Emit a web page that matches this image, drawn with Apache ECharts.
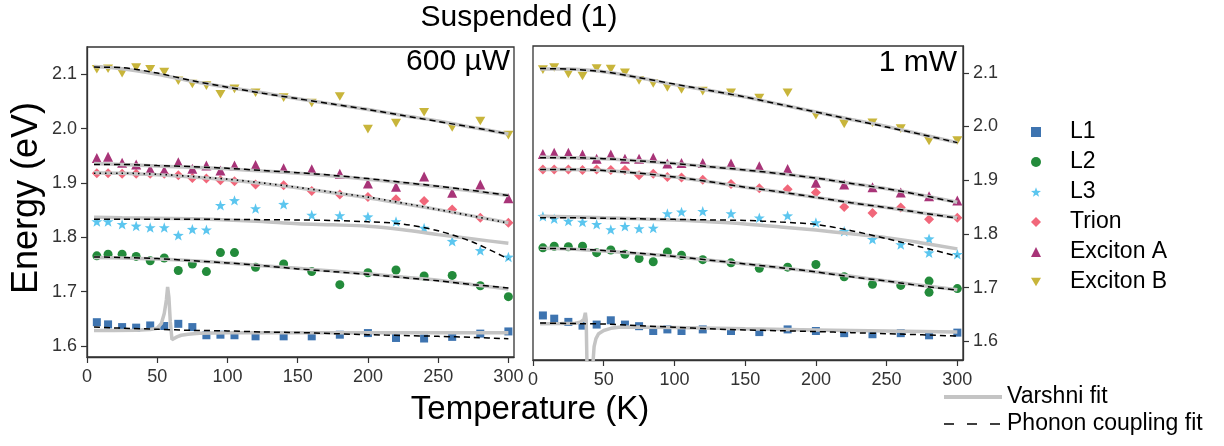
<!DOCTYPE html>
<html>
<head>
<meta charset="utf-8">
<script src="https://cdn.jsdelivr.net/npm/echarts@6/dist/echarts.min.js"></script>
<style>
  html, body { margin: 0; padding: 0; background: #fff; }
  #chart { width: 1224px; height: 446px; }
</style>
</head>
<body>
<div id="chart"></div>
<script>
// Measurement temperatures (K)
const TEMPS = [7, 15, 25, 35, 45, 55, 65, 75, 85, 95, 105, 120, 140, 160, 180, 200, 220, 240, 260, 280, 300];
const STATES = ['L1', 'L2', 'L3', 'Trion', 'Exciton A', 'Exciton B'];
const X_TICKS = [0, 50, 100, 150, 200, 250, 300];
const Y_TICKS = [1.6, 1.7, 1.8, 1.9, 2.0, 2.1];

// Peak energies (eV), 600 uW excitation
const P600_L1 = [1.644, 1.640, 1.635, 1.634, 1.638, 1.637, 1.641, 1.635, 1.620, 1.621, 1.620, 1.618, 1.618, 1.618, 1.621, 1.624, 1.615, 1.614, 1.617, 1.623, 1.627];
const P600_L2 = [1.766, 1.769, 1.769, 1.765, 1.757, 1.762, 1.739, 1.751, 1.737, 1.772, 1.772, 1.745, 1.751, 1.737, 1.713, 1.735, 1.740, 1.729, 1.730, 1.711, 1.691];
const P600_L3 = [1.829, 1.829, 1.824, 1.821, 1.818, 1.818, 1.804, 1.815, 1.814, 1.859, 1.868, 1.853, 1.861, 1.841, 1.840, 1.838, 1.829, 1.817, 1.793, 1.776, 1.764];
const P600_TRION = [1.918, 1.918, 1.917, 1.917, 1.917, 1.917, 1.914, 1.909, 1.908, 1.905, 1.903, 1.897, 1.896, 1.885, 1.879, 1.874, 1.870, 1.867, 1.851, 1.836, 1.827];
const P600_EXA = [1.946, 1.948, 1.937, 1.934, 1.925, 1.923, 1.938, 1.926, 1.932, 1.923, 1.932, 1.933, 1.927, 1.925, 1.917, 1.899, 1.893, 1.912, 1.882, 1.897, 1.872];
const P600_EXB = [2.109, 2.110, 2.102, 2.112, 2.109, 2.104, 2.088, 2.082, 2.079, 2.063, 2.073, 2.066, 2.057, 2.047, 2.059, 1.999, 2.010, 2.030, 2.002, 2.014, 1.988];

// Peak energies (eV), 1 mW excitation
const P1MW_L1 = [1.648, 1.642, 1.636, 1.629, 1.631, 1.639, 1.631, 1.628, 1.619, 1.622, 1.619, 1.622, 1.619, 1.617, 1.622, 1.619, 1.615, 1.613, 1.615, 1.611, 1.616];
const P1MW_L2 = [1.774, 1.777, 1.776, 1.777, 1.765, 1.770, 1.762, 1.754, 1.748, 1.766, 1.760, 1.752, 1.746, 1.736, 1.738, 1.743, 1.720, 1.706, 1.704, 1.691, 1.698];
const P1MW_L3 = [1.833, 1.828, 1.824, 1.822, 1.818, 1.808, 1.814, 1.810, 1.811, 1.838, 1.841, 1.842, 1.838, 1.830, 1.834, 1.821, 1.805, 1.790, 1.780, 1.765, 1.762];
const P1MW_TRION = [1.920, 1.920, 1.920, 1.919, 1.920, 1.919, 1.919, 1.909, 1.912, 1.906, 1.905, 1.901, 1.893, 1.885, 1.883, 1.877, 1.850, 1.839, 1.849, 1.827, 1.830];
const P1MW_EXA = [1.949, 1.951, 1.951, 1.948, 1.940, 1.948, 1.940, 1.940, 1.942, 1.931, 1.932, 1.932, 1.931, 1.926, 1.921, 1.895, 1.892, 1.887, 1.877, 1.870, 1.862];
const P1MW_EXB = [2.106, 2.110, 2.098, 2.094, 2.108, 2.107, 2.100, 2.086, 2.080, 2.073, 2.069, 2.066, 2.063, 2.053, 2.063, 2.021, 2.005, 2.007, 1.996, 1.973, 1.974];
// Repeated measurements at the same temperature, [T, E]
const P1MW_L2_REPEAT = [[280, 1.712]];
const P1MW_L3_REPEAT = [[280, 1.791]];

// Fit curves, sampled at these temperatures
const FIT_T = [5, 25, 50, 75, 100, 125, 150, 175, 200, 225, 250, 275, 300];

const P600_L1_PHONON = [1.635, 1.633, 1.631, 1.629, 1.628, 1.626, 1.625, 1.623, 1.621, 1.6195, 1.618, 1.616, 1.6135];
const P600_L2_VARSHNI = [1.763, 1.762, 1.760, 1.757, 1.753, 1.748, 1.743, 1.738, 1.733, 1.727, 1.721, 1.713, 1.705];
const P600_L2_PHONON = [1.764, 1.763, 1.761, 1.757, 1.753, 1.748, 1.742, 1.737, 1.732, 1.726, 1.720, 1.713, 1.707];
const P600_L3_VARSHNI = [1.837, 1.836, 1.835, 1.834, 1.832, 1.829, 1.825, 1.823, 1.8205, 1.814, 1.805, 1.797, 1.789];
const P600_L3_PHONON = [1.8335, 1.8335, 1.8335, 1.8333, 1.833, 1.8325, 1.832, 1.831, 1.8286, 1.8245, 1.812, 1.791, 1.760];
const P600_TRION_VARSHNI = [1.919, 1.918, 1.915, 1.911, 1.906, 1.899, 1.891, 1.882, 1.873, 1.862, 1.851, 1.839, 1.827];
const P600_TRION_PHONON = [1.918, 1.918, 1.916, 1.912, 1.907, 1.900, 1.892, 1.883, 1.874, 1.863, 1.851, 1.839, 1.826];
const P600_EXA_VARSHNI = [1.936, 1.934, 1.931, 1.929, 1.926, 1.922, 1.918, 1.913, 1.907, 1.900, 1.893, 1.885, 1.877];
const P600_EXA_PHONON = [1.934, 1.934, 1.932, 1.930, 1.927, 1.923, 1.919, 1.914, 1.908, 1.901, 1.894, 1.886, 1.877];
const P600_EXB_VARSHNI = [2.114, 2.110, 2.100, 2.087, 2.076, 2.066, 2.055, 2.045, 2.035, 2.024, 2.014, 2.002, 1.990];
const P600_EXB_PHONON = [2.113, 2.112, 2.102, 2.088, 2.076, 2.065, 2.055, 2.045, 2.035, 2.024, 2.013, 2.002, 1.990];

const P1MW_L1_PHONON = [1.634, 1.633, 1.632, 1.629, 1.626, 1.623, 1.621, 1.6195, 1.618, 1.616, 1.614, 1.612, 1.6095];
const P1MW_L2_VARSHNI = [1.773, 1.772, 1.768, 1.763, 1.758, 1.751, 1.744, 1.737, 1.729, 1.721, 1.712, 1.704, 1.696];
const P1MW_L2_PHONON = [1.773, 1.772, 1.769, 1.764, 1.758, 1.751, 1.744, 1.737, 1.729, 1.720, 1.712, 1.703, 1.695];
const P1MW_L3_VARSHNI = [1.833, 1.832, 1.830, 1.828, 1.826, 1.8225, 1.8185, 1.813, 1.807, 1.800, 1.793, 1.783, 1.772];
const P1MW_L3_PHONON = [1.830, 1.830, 1.829, 1.828, 1.827, 1.826, 1.825, 1.822, 1.8175, 1.806, 1.791, 1.775, 1.7585];
const P1MW_TRION_VARSHNI = [1.920, 1.920, 1.918, 1.913, 1.906, 1.897, 1.887, 1.878, 1.868, 1.858, 1.849, 1.839, 1.830];
const P1MW_TRION_PHONON = [1.920, 1.920, 1.918, 1.913, 1.906, 1.897, 1.887, 1.878, 1.868, 1.858, 1.849, 1.839, 1.829];
const P1MW_EXA_VARSHNI = [1.943, 1.942, 1.940, 1.936, 1.931, 1.925, 1.919, 1.912, 1.904, 1.894, 1.884, 1.872, 1.859];
const P1MW_EXA_PHONON = [1.942, 1.942, 1.940, 1.936, 1.931, 1.925, 1.919, 1.912, 1.904, 1.894, 1.884, 1.872, 1.858];
const P1MW_EXB_VARSHNI = [2.107, 2.107, 2.102, 2.091, 2.078, 2.067, 2.055, 2.041, 2.027, 2.013, 2.000, 1.985, 1.970];
const P1MW_EXB_PHONON = [2.108, 2.107, 2.102, 2.091, 2.079, 2.067, 2.055, 2.041, 2.027, 2.013, 1.999, 1.985, 1.970];

// The L1 Varshni fits pass through a pole, so they carry their own sampling
const P600_L1_VARSHNI_T = [5, 20, 35, 45, 50, 53, 55, 56.5, 57.4, 58.3, 59.3, 60.5, 62, 64, 67, 72, 80, 100, 150, 200, 250, 300];
const P600_L1_VARSHNI = [1.6287, 1.6288, 1.629, 1.6305, 1.633, 1.642, 1.66, 1.685, 1.709, 1.69, 1.645, 1.612, 1.614, 1.617, 1.620, 1.622, 1.6235, 1.6245, 1.6245, 1.6245, 1.6245, 1.6245];
const P1MW_L1_VARSHNI_T = [5, 20, 30, 34, 36, 37, 37.6, 38.2, 38.6, 41.8, 42.4, 43.2, 44.5, 46.4, 50, 55, 62, 100, 150, 200, 250, 300];
const P1MW_L1_VARSHNI = [1.6326, 1.6328, 1.6335, 1.636, 1.641, 1.653, 1.64, 1.55, 1.45, 1.45, 1.56, 1.59, 1.605, 1.614, 1.620, 1.624, 1.6263, 1.6255, 1.623, 1.621, 1.619, 1.617];

const FONT = "'Liberation Sans', Arial, sans-serif";
const STAR = 'path://M0,-10L2.35,-3.24L9.51,-3.09L3.8,1.24L5.88,8.09L0,4.2L-5.88,8.09L-3.8,1.24L-9.51,-3.09L-2.35,-3.24Z';
const DOWN_TRIANGLE = 'path://M-5,-4.3L5,-4.3L0,4.3Z';
const STYLE = {
  'L1':        { color: '#3e74b0', symbol: 'rect', size: 8 },
  'L2':        { color: '#238b3b', symbol: 'circle', size: 9 },
  'L3':        { color: '#5cc6ef', symbol: STAR, size: 11 },
  'Trion':     { color: '#f1677a', symbol: 'diamond', size: 10 },
  'Exciton A': { color: '#a83478', symbol: 'triangle', size: 10 },
  'Exciton B': { color: '#c8b53b', symbol: DOWN_TRIANGLE, size: 10 }
};

const PANELS = [
  {
    points: { 'L1': P600_L1, 'L2': P600_L2, 'L3': P600_L3, 'Trion': P600_TRION, 'Exciton A': P600_EXA, 'Exciton B': P600_EXB },
    repeats: {},
    varshni: { 'L2': P600_L2_VARSHNI, 'L3': P600_L3_VARSHNI, 'Trion': P600_TRION_VARSHNI, 'Exciton A': P600_EXA_VARSHNI, 'Exciton B': P600_EXB_VARSHNI },
    phonon: { 'L1': P600_L1_PHONON, 'L2': P600_L2_PHONON, 'L3': P600_L3_PHONON, 'Trion': P600_TRION_PHONON, 'Exciton A': P600_EXA_PHONON, 'Exciton B': P600_EXB_PHONON },
    poleT: P600_L1_VARSHNI_T, poleE: P600_L1_VARSHNI,
    dotted: { 'Trion': [1.5, 4] }
  },
  {
    points: { 'L1': P1MW_L1, 'L2': P1MW_L2, 'L3': P1MW_L3, 'Trion': P1MW_TRION, 'Exciton A': P1MW_EXA, 'Exciton B': P1MW_EXB },
    repeats: { 'L2': P1MW_L2_REPEAT, 'L3': P1MW_L3_REPEAT },
    varshni: { 'L2': P1MW_L2_VARSHNI, 'L3': P1MW_L3_VARSHNI, 'Trion': P1MW_TRION_VARSHNI, 'Exciton A': P1MW_EXA_VARSHNI, 'Exciton B': P1MW_EXB_VARSHNI },
    phonon: { 'L1': P1MW_L1_PHONON, 'L2': P1MW_L2_PHONON, 'L3': P1MW_L3_PHONON, 'Trion': P1MW_TRION_PHONON, 'Exciton A': P1MW_EXA_PHONON, 'Exciton B': P1MW_EXB_PHONON },
    poleT: P1MW_L1_VARSHNI_T, poleE: P1MW_L1_VARSHNI,
    dotted: {}
  }
];

const zip = (xs, ys) => xs.map((x, i) => [x, ys[i]]);
const VARSHNI_STYLE = { color: '#c4c4c4', width: 3.5, type: 'solid' };
const PHONON_STYLE = { color: '#000', width: 1.5, type: [6, 4] };

const series = [];
PANELS.forEach((p, k) => {
  STATES.forEach(name => {
    const s = STYLE[name];
    series.push({
      type: 'scatter', name, xAxisIndex: k, yAxisIndex: k, z: 2,
      symbol: s.symbol, symbolSize: s.size, symbolKeepAspect: true,
      itemStyle: { color: s.color, opacity: 1 },
      data: zip(TEMPS, p.points[name]).concat(p.repeats[name] || [])
    });
  });
  STATES.forEach(name => {
    const vData = name === 'L1' ? zip(p.poleT, p.poleE) : zip(FIT_T, p.varshni[name]);
    series.push({
      type: 'line', name: 'Varshni fit', xAxisIndex: k, yAxisIndex: k, z: 3,
      symbol: 'none', smooth: name === 'L1' ? false : 0.3, clip: true,
      lineStyle: VARSHNI_STYLE, itemStyle: { color: '#c4c4c4' },
      data: vData, silent: true
    });
  });
  STATES.forEach(name => {
    const ls = p.dotted[name] ? Object.assign({}, PHONON_STYLE, { type: p.dotted[name], width: 1.6 }) : PHONON_STYLE;
    series.push({
      type: 'line', name: 'Phonon coupling fit', xAxisIndex: k, yAxisIndex: k, z: 4,
      symbol: 'none', smooth: 0.3, clip: true,
      lineStyle: ls, itemStyle: { color: '#000' },
      data: zip(FIT_T, p.phonon[name]), silent: true
    });
  });
});

const axisColor = '#333';
function xAxis(idx) {
  return {
    type: 'value', gridIndex: idx, min: 0, max: 304,
    axisLine: { show: true, onZero: false, lineStyle: { color: axisColor, width: 1.3 } },
    axisTick: { show: true, length: 6, customValues: X_TICKS, lineStyle: { color: axisColor, width: 1.2 } },
    axisLabel: { customValues: X_TICKS, margin: 11, fontSize: 18, fontFamily: FONT, color: '#333' },
    splitLine: { show: false }
  };
}
function yAxis(idx, min, pos) {
  return {
    type: 'value', gridIndex: idx, min, max: 2.15, position: pos,
    axisLine: { show: true, onZero: false, lineStyle: { color: axisColor, width: 1.3 } },
    axisTick: { show: true, length: 6, customValues: Y_TICKS, lineStyle: { color: axisColor, width: 1.2 } },
    axisLabel: { customValues: Y_TICKS, margin: 10, fontSize: 18, fontFamily: FONT, color: '#333',
                 formatter: v => v.toFixed(1) },
    splitLine: { show: false }
  };
}

const chart = echarts.init(document.getElementById('chart'), null, { renderer: 'canvas' });
chart.setOption({
  animation: false,
  backgroundColor: '#fff',
  grid: [
    { left: 87, top: 47, width: 427, height: 310, show: true, borderColor: axisColor, borderWidth: 1.3, backgroundColor: 'transparent' },
    { left: 533, top: 46, width: 430, height: 314, show: true, borderColor: axisColor, borderWidth: 1.3, backgroundColor: 'transparent' }
  ],
  xAxis: [xAxis(0), xAxis(1)],
  yAxis: [yAxis(0, 1.58, 'left'), yAxis(1, 1.565, 'right')],
  legend: [
    {
      data: STATES, orient: 'vertical', left: 1026, top: 115,
      itemWidth: 10, itemHeight: 10, itemGap: 6, selectedMode: false,
      textStyle: { fontSize: 23, lineHeight: 24, fontFamily: FONT, color: '#000', padding: [0, 0, 0, 24] }
    },
    {
      data: [
        { name: 'Varshni fit', lineStyle: { color: '#c4c4c4', width: 4, type: 'solid' } },
        { name: 'Phonon coupling fit', lineStyle: { color: '#000', width: 1.6, type: [10, 13] } }
      ],
      orient: 'vertical', left: 937, top: 380,
      itemWidth: 58, itemHeight: 14, itemGap: 3, selectedMode: false,
      itemStyle: { opacity: 0 },
      textStyle: { fontSize: 23, lineHeight: 24, fontFamily: FONT, color: '#000' }
    }
  ],
  graphic: [
    { type: 'text', z: 10, style: { x: 519, y: 18, text: 'Suspended (1)', font: `30px ${FONT}`, fill: '#000', textAlign: 'center', textVerticalAlign: 'middle' } },
    { type: 'text', z: 10, style: { x: 510, y: 62, text: '600 µW', font: `30px ${FONT}`, fill: '#000', textAlign: 'right', textVerticalAlign: 'middle' } },
    { type: 'text', z: 10, style: { x: 957, y: 63, text: '1 mW', font: `30px ${FONT}`, fill: '#000', textAlign: 'right', textVerticalAlign: 'middle' } },
    { type: 'text', z: 10, style: { x: 530, y: 410, text: 'Temperature (K)', font: `33px ${FONT}`, fill: '#000', textAlign: 'center', textVerticalAlign: 'middle' } },
    { type: 'text', z: 10, x: 27, y: 198, rotation: Math.PI / 2, style: { x: 0, y: 0, text: 'Energy (eV)', font: `36px ${FONT}`, fill: '#000', textAlign: 'center', textVerticalAlign: 'middle' } }
  ],
  series
});
</script>
</body>
</html>
